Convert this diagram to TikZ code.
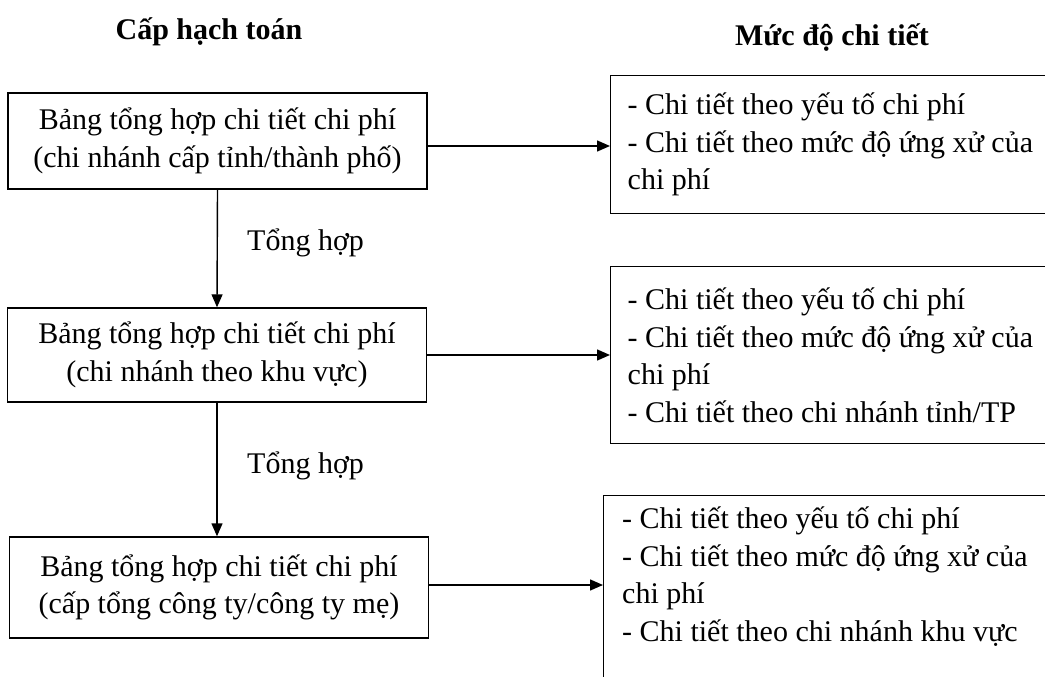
\documentclass[tikz,border=0pt]{standalone}
\usepackage{fontspec}
\setmainfont{Liberation Serif}
\usetikzlibrary{arrows.meta}
\newcommand\bodyfont{\fontsize{30}{37.5}\selectfont}
\newcommand\headfont{\fontsize{30}{36}\selectfont\bfseries}
\begin{document}
\begin{tikzpicture}[x=1pt,y=-1pt,
  frame/.style={draw=black,line width=1.4pt},
  levelbox/.style={frame,align=center,font=\bodyfont,inner sep=0pt,
    minimum width=419pt},
  detailbox/.style={frame,anchor=north west,align=flush left,font=\bodyfont,
    text width=440pt,inner xsep=17pt,inner ysep=0pt},
  link/.style={line width=1.4pt,-{Triangle[length=13pt,width=11pt]}},
  note/.style={font=\bodyfont,inner sep=0pt},
  head/.style={font=\headfont,inner sep=0pt,anchor=base}]
\useasboundingbox (0,0) rectangle (1045,677);
\clip (0,0) rectangle (1045,677);

% column headings
\node[head] (h1) at (209,40) {Cấp hạch toán};
\node[head] (h2) at (832,46) {Mức độ chi tiết};

% accounting levels
\node[levelbox,minimum height=96pt] (l1) at (217.5,141)
  {Bảng tổng hợp chi tiết chi phí\\(chi nhánh cấp tỉnh/thành phố)};
\node[levelbox,minimum height=94pt] (l2) at (217,355)
  {Bảng tổng hợp chi tiết chi phí\\(chi nhánh theo khu vực)};
\node[levelbox,minimum height=101pt] (l3) at (219,587.5)
  {Bảng tổng hợp chi tiết chi phí\\(cấp tổng công ty/công ty mẹ)};

% detail levels
\node[detailbox,minimum height=138pt] (r1) at (610,75)
  {- Chi tiết theo yếu tố chi phí\\- Chi tiết theo mức độ ứng xử của\\chi phí};
\node[detailbox,minimum height=177pt] (r2) at (610,266)
  {- Chi tiết theo yếu tố chi phí\\- Chi tiết theo mức độ ứng xử của\\chi phí\\- Chi tiết theo chi nhánh tỉnh/TP};
\node[frame,anchor=north west,inner sep=0pt,minimum width=480pt,
  minimum height=240pt] (r3) at (603,495) {};
\node[anchor=north west,align=flush left,font=\bodyfont,inner sep=0pt] (r3text)
  at (622,507)
  {- Chi tiết theo yếu tố chi phí\\- Chi tiết theo mức độ ứng xử của\\chi phí\\- Chi tiết theo chi nhánh khu vực};

% aggregation arrows
\draw[link] (l1.south) -- (l2.north);
\draw[link] (l2.south) -- (l2.south |- l3.north);
\node[note,anchor=west] (t1) at (247,243) {Tổng hợp};
\node[note,anchor=west] (t2) at (247,466) {Tổng hợp};

% level to detail arrows
\draw[link] ([yshift=-5pt]l1.east) -- ([yshift=-5pt]l1.east -| r1.west);
\draw[link] (l2.east) -- (l2.east -| r2.west);
\draw[link] ([yshift=2.5pt]l3.east) -- ([yshift=2.5pt]l3.east -| r3.west);
\end{tikzpicture}
\end{document}
